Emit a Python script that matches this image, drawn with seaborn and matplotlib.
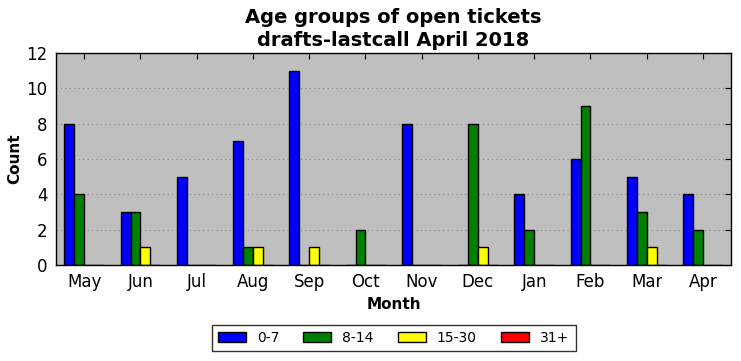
import matplotlib
matplotlib.use("Agg")
import matplotlib.pyplot as plt
import seaborn as sns
import pandas as pd

months = ["May", "Jun", "Jul", "Aug", "Sep", "Oct", "Nov", "Dec", "Jan", "Feb", "Mar", "Apr"]
age_0_7 = [8, 3, 5, 7, 11, 0, 8, 0, 4, 6, 5, 4]
age_8_14 = [4, 3, 0, 1, 0, 2, 0, 8, 2, 9, 3, 2]
age_15_30 = [0, 1, 0, 1, 1, 0, 0, 1, 0, 0, 1, 0]
age_31 = [0, 0, 0, 0, 0, 0, 0, 0, 0, 0, 0, 0]
groups = ["0-7", "8-14", "15-30", "31+"]
colors = ["#0000ff", "#008000", "#ffff00", "#ff0000"]

rows = []
for g, vals in zip(groups, [age_0_7, age_8_14, age_15_30, age_31]):
    for m, v in zip(months, vals):
        rows.append({"Month": m, "Count": v, "Age": g})
df = pd.DataFrame(rows)

sns.set_style("white")
plt.rcParams['font.family'] = ['DejaVu Sans']
plt.rcParams['text.color'] = 'black'
plt.rcParams['axes.labelcolor'] = 'black'
plt.rcParams['xtick.color'] = 'black'
plt.rcParams['ytick.color'] = 'black'

fig = plt.figure(figsize=(7.41, 3.61), dpi=100)
ax = fig.add_axes([0.0756, 0.266, 0.911, 0.587])
ax.set_facecolor("#bfbfbf")

sns.barplot(data=df, x="Month", y="Count", hue="Age", order=months, hue_order=groups,
            palette=colors, width=0.7, gap=0, saturation=1, edgecolor="black",
            linewidth=1, ax=ax, legend=True, errorbar=None)

ax.set_ylim(0, 12)
ax.set_xlim(-0.5, 11.5)
ax.set_yticks(range(0, 13, 2))
ax.yaxis.grid(True, linestyle=(0, (1, 3)), color="#8a8a8a", linewidth=0.8)
ax.xaxis.grid(False)
ax.set_axisbelow(True)
for s in ax.spines.values():
    s.set_visible(True)
    s.set_color("black")
    s.set_linewidth(1)
ax.tick_params(direction="in", top=True, right=True, length=4, labelsize=12,
               color="black", labelcolor="black", pad=6)
ax.set_xlabel("Month", fontsize=11, fontweight="bold", color="black")
ax.set_ylabel("Count", fontsize=11, fontweight="bold", color="black", labelpad=3)
ax.set_title("Age groups of open tickets\ndrafts-lastcall April 2018", fontsize=14,
             fontweight="bold", linespacing=1.25, color="black", pad=5)

leg = ax.legend(loc="center", bbox_to_anchor=(0.5, -0.344), ncol=4, fontsize=10,
                frameon=True, fancybox=False, edgecolor="black", handlelength=2.0,
                handleheight=0.7, columnspacing=1.75, borderpad=0.45, handletextpad=0.8)
leg.get_frame().set_linewidth(1)
leg.get_frame().set_facecolor("white")
for t in leg.get_texts():
    t.set_color("black")

fig.savefig("out.png", dpi=100)
